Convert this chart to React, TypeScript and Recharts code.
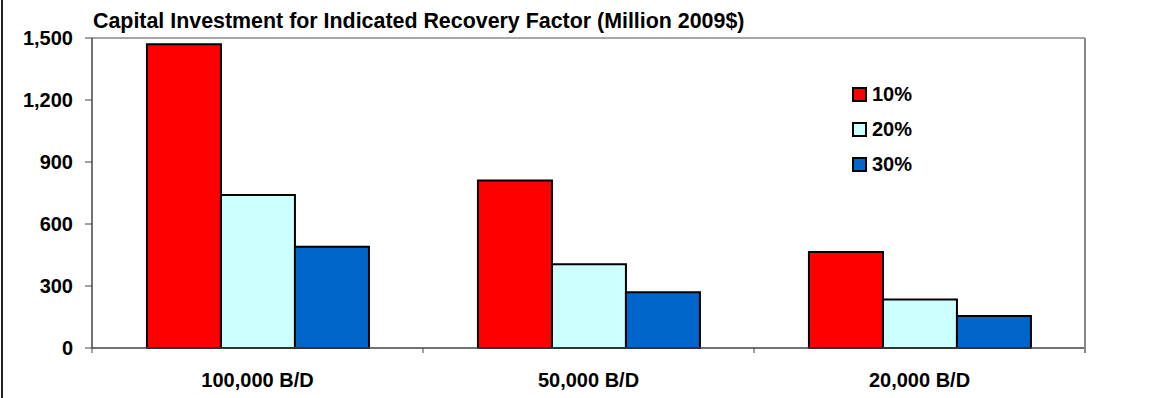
import {
  BarChart,
  Bar,
  XAxis,
  YAxis,
  ReferenceLine,
} from "recharts";

const categories = ["100,000 B/D", "50,000 B/D", "20,000 B/D"];
const rf10 = [1470, 810, 465];
const rf20 = [740, 405, 235];
const rf30 = [490, 270, 155];
const yTicks = [0, 300, 600, 900, 1200, 1500];

const series = [
  { key: "rf10", name: "10%", color: "#FF0000" },
  { key: "rf20", name: "20%", color: "#CCFFFF" },
  { key: "rf30", name: "30%", color: "#0066CC" },
];

const data = categories.map((cat, i) => ({
  cat,
  rf10: rf10[i],
  rf20: rf20[i],
  rf30: rf30[i],
}));

const FONT = "'Liberation Sans', Arial, sans-serif";

// category labels plus the small tick marks between categories
const CategoryTick = ({ x, y, payload, index }: any) => {
  const half = payload.offset || 0;
  const axisY = y - 8;
  return (
    <g>
      <line x1={x - half} x2={x - half} y1={axisY} y2={axisY + 5} stroke="#444" />
      {index === categories.length - 1 && (
        <line x1={x + half} x2={x + half} y1={axisY} y2={axisY + 5} stroke="#888" strokeWidth={2} />
      )}
      <text
        x={x}
        y={y + 31}
        textAnchor="middle"
        fontFamily={FONT}
        fontWeight="bold"
        fontSize={20}
        fill="#000"
      >
        {payload.value}
      </text>
    </g>
  );
};

const LegendBox = () => (
  <div
    style={{
      position: "absolute",
      left: 852,
      top: 77,
      fontFamily: FONT,
      fontWeight: "bold",
      fontSize: 20,
      color: "#000",
    }}
  >
    {series.map((s) => (
      <div
        key={s.key}
        style={{ display: "flex", alignItems: "center", height: 35 }}
      >
        <span
          style={{
            width: 11,
            height: 11,
            background: s.color,
            border: "2px solid #000",
            marginRight: 5,
          }}
        />
        {s.name}
      </div>
    ))}
  </div>
);

const App = () => {
  return (
    <div
      style={{
        position: "absolute",
        left: 0,
        top: 0,
        width: 1154,
        height: 398,
        background: "#fff",
      }}
    >
      <div
        style={{
          position: "absolute",
          left: 1,
          top: 0,
          width: 2,
          height: 398,
          background: "#222",
        }}
      />
      <div
        style={{
          position: "absolute",
          left: 93,
          top: 9,
          fontFamily: FONT,
          fontWeight: "bold",
          fontSize: 21.4,
          color: "#000",
          whiteSpace: "nowrap",
        }}
      >
        Capital Investment for Indicated Recovery Factor (Million 2009$)
      </div>
      <BarChart
        width={1154}
        height={398}
        data={data}
        margin={{ top: 38, right: 68, bottom: 0, left: 12 }}
        barCategoryGap="16.6%"
        barGap={0}
      >
        <XAxis
          dataKey="cat"
          height={50}
          axisLine={{ stroke: "#444", strokeWidth: 1.5 }}
          tickLine={false}
          tickSize={4}
          tickMargin={4}
          tick={<CategoryTick />}
          interval={0}
        />
        <YAxis
          width={80}
          domain={[0, 1500]}
          ticks={yTicks}
          interval={0}
          tickFormatter={(v: number) => v.toLocaleString("en-US")}
          axisLine={{ stroke: "#444", strokeWidth: 1.5 }}
          tickLine={{ stroke: "#444" }}
          tickSize={7}
          tickMargin={12}
          tick={{ fontFamily: FONT, fontWeight: "bold", fontSize: 20, fill: "#000" }}
        />
        <YAxis
          yAxisId="right"
          orientation="right"
          width={1}
          domain={[0, 1500]}
          tick={false}
          tickLine={false}
          axisLine={{ stroke: "#888", strokeWidth: 2 }}
        />
        <ReferenceLine y={1500} stroke="#888" strokeWidth={1.5} />
        {series.map((s) => (
          <Bar
            key={s.key}
            dataKey={s.key}
            name={s.name}
            fill={s.color}
            stroke="#000"
            strokeWidth={2}
            isAnimationActive={false}
          />
        ))}
      </BarChart>
      <LegendBox />
    </div>
  );
};

export default App;
